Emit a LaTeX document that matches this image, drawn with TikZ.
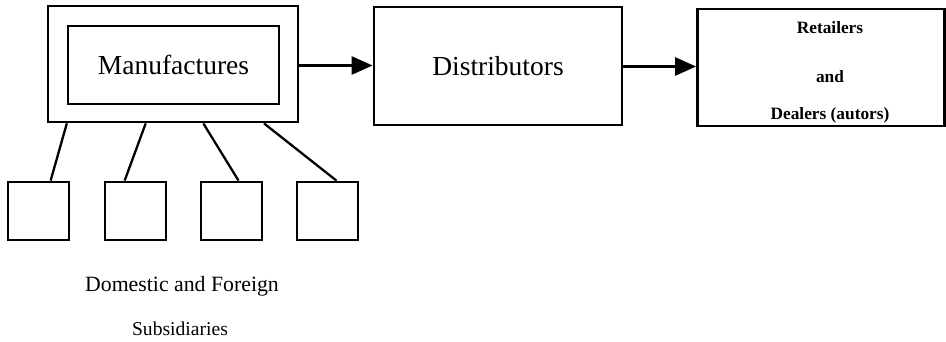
\documentclass[tikz,border=0pt]{standalone}
\usepackage{fontspec}
\setmainfont{Liberation Serif}
\usetikzlibrary{arrows.meta,calc}
\begin{document}
\begin{tikzpicture}[x=1pt,y=-1pt,
  box/.style={draw=black,line width=2.8pt,minimum width=#1,inner sep=0pt},
  small/.style={draw=black,line width=2.8pt,minimum width=61pt,minimum height=58pt,inner sep=0pt},
  link/.style={line width=2.3pt},
  flow/.style={line width=2.8pt,-{Triangle[length=21pt,width=18pt]}},
  big/.style={font=\fontsize{27.5}{30}\selectfont},
  mid/.style={font=\bfseries\fontsize{17.3}{19}\selectfont},
  captext/.style={font=\fontsize{#1}{24}\selectfont}]
\useasboundingbox (0,0) rectangle (946,342);
\node[box=250pt,minimum height=116pt] (outer) at (173,64) {};
\node[box=211pt,minimum height=78pt,big] (man) at (173.5,65) {Manufactures};
\node[box=248pt,minimum height=118pt,big] (dist) at (498,66) {Distributors};
\node[box=247pt,minimum height=117pt] (ret) at (821,67.5) {};
\node[mid] (t1) at (830,28) {Retailers};
\node[mid] (t2) at (830,77) {and};
\node[mid] (t3) at (830,115) {Dealers (autors)};
\node[small] (s1) at (38.5,211) {};
\node[small] (s2) at (135.5,211) {};
\node[small] (s3) at (231.5,211) {};
\node[small] (s4) at (327.5,211) {};
\node[captext=21.8] (c1) at (182,286) {Domestic and Foreign};
\node[captext=19.6] (c2) at (180,329) {Subsidiaries};
\draw[flow] (outer.east|-0,65.5) -- (dist.west|-0,65.5);
\draw[flow] (dist.east|-0,66.5) -- (ret.west|-0,66.5);
\draw[link] ($(outer.south west)!0.08!(outer.south east)$) -- ($(s1.north west)!0.69!(s1.north east)$);
\draw[link] ($(outer.south west)!0.392!(outer.south east)$) -- ($(s2.north west)!0.33!(s2.north east)$);
\draw[link] ($(outer.south west)!0.62!(outer.south east)$) -- ($(s3.north west)!0.61!(s3.north east)$);
\draw[link] ($(outer.south west)!0.86!(outer.south east)$) -- ($(s4.north west)!0.64!(s4.north east)$);
\end{tikzpicture}
\end{document}
